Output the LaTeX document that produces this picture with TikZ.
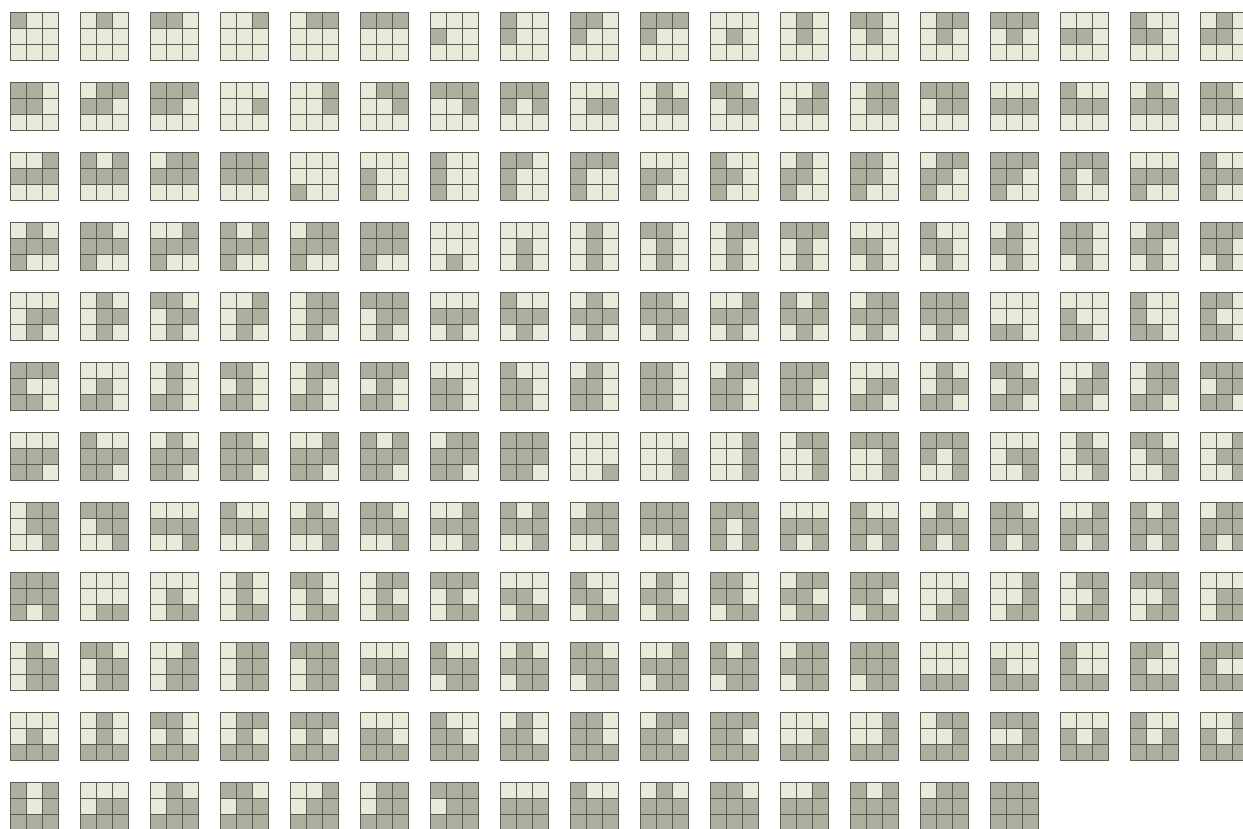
\documentclass[tikz,border=0pt]{standalone}
\definecolor{lightcell}{RGB}{234,234,217}
\definecolor{darkcell}{RGB}{175,175,160}
\definecolor{gridline}{RGB}{90,90,82}
\definecolor{framehalo}{RGB}{185,185,175}

\ExplSyntaxOn
\intarray_new:Nn \g_my_cell_intarray {9}
\intarray_new:Nn \g_my_mark_intarray {9}
\int_new:N \l_my_n_int
\int_new:N \l_my_total_int
\int_new:N \l_my_marked_int
\int_new:N \l_my_r_int
\int_new:N \l_my_c_int
\int_new:N \l_my_nb_int
\int_new:N \l_my_h_int
\bool_new:N \l_my_found_bool
\clist_new:N \g_my_valid_clist

\cs_new_protected:Npn \my_try_mark:n #1
  {
    \int_compare:nNnT { \intarray_item:Nn \g_my_mark_intarray {#1} } = {0}
      {
        \int_set:Nn \l_my_r_int { \int_div_truncate:nn {#1 - 1} {3} }
        \int_set:Nn \l_my_c_int { \int_mod:nn {#1 - 1} {3} }
        \int_zero:N \l_my_nb_int
        \int_compare:nNnT {\l_my_r_int} > {0}
          { \int_add:Nn \l_my_nb_int { \intarray_item:Nn \g_my_mark_intarray {#1 - 3} } }
        \int_compare:nNnT {\l_my_r_int} < {2}
          { \int_add:Nn \l_my_nb_int { \intarray_item:Nn \g_my_mark_intarray {#1 + 3} } }
        \int_compare:nNnT {\l_my_c_int} > {0}
          { \int_add:Nn \l_my_nb_int { \intarray_item:Nn \g_my_mark_intarray {#1 - 1} } }
        \int_compare:nNnT {\l_my_c_int} < {2}
          { \int_add:Nn \l_my_nb_int { \intarray_item:Nn \g_my_mark_intarray {#1 + 1} } }
        \int_compare:nNnT {\l_my_nb_int} > {0}
          { \intarray_gset:Nnn \g_my_mark_intarray {#1} {1} }
      }
  }

\cs_new_protected:Npn \my_test:n #1
  {
    \int_set:Nn \l_my_n_int {#1}
    \int_zero:N \l_my_total_int
    \int_step_inline:nn {9}
      {
        \intarray_gset:Nnn \g_my_cell_intarray {##1} { \int_mod:nn {\l_my_n_int} {2} }
        \intarray_gset:Nnn \g_my_mark_intarray {##1} {0}
        \int_add:Nn \l_my_total_int { \int_mod:nn {\l_my_n_int} {2} }
        \int_set:Nn \l_my_n_int { \int_div_truncate:nn {\l_my_n_int} {2} }
      }
    \bool_set_false:N \l_my_found_bool
    \int_step_inline:nn {9}
      {
        \bool_if:NF \l_my_found_bool
          {
            \int_compare:nNnT { \intarray_item:Nn \g_my_cell_intarray {##1} } = {1}
              {
                \intarray_gset:Nnn \g_my_mark_intarray {##1} {1}
                \bool_set_true:N \l_my_found_bool
              }
          }
      }
    \prg_replicate:nn {8}
      {
        \int_step_inline:nn {9}
          {
            \int_compare:nNnT { \intarray_item:Nn \g_my_cell_intarray {##1} } = {1}
              { \my_try_mark:n {##1} }
          }
      }
    \int_zero:N \l_my_marked_int
    \int_step_inline:nn {9}
      { \int_add:Nn \l_my_marked_int { \intarray_item:Nn \g_my_mark_intarray {##1} } }
    \int_set:Nn \l_my_h_int
      {
        \intarray_item:Nn \g_my_cell_intarray {2}
        + \intarray_item:Nn \g_my_cell_intarray {4}
        + \intarray_item:Nn \g_my_cell_intarray {6}
        + \intarray_item:Nn \g_my_cell_intarray {8}
        - \intarray_item:Nn \g_my_cell_intarray {5}
      }
    \int_compare:nNnT {\l_my_marked_int} = {\l_my_total_int}
      {
        \int_compare:nNnT {\l_my_h_int} < {4}
          { \clist_gput_right:Nn \g_my_valid_clist {#1} }
      }
  }

\int_step_inline:nnn {1} {511} { \my_test:n {#1} }
\cs_gset_eq:NN \mytilelist \g_my_valid_clist
\ExplSyntaxOff

\tikzset{
  tilehalo/.style={draw=framehalo, line width=1.8pt},
  tileframe/.style={draw=gridline, line width=0.7pt},
  tilegrid/.style={draw=gridline, line width=0.6pt}
}

\begin{document}
\begin{tikzpicture}[x=1pt,y=-1pt]
\useasboundingbox (0,0) rectangle (1243,829);
\fill[white] (0,0) rectangle (1243,829);
\clip (0,0) rectangle (1243,829);
\def\s{16}
\foreach \n [count=\i from 0] in \mytilelist {
  \pgfmathtruncatemacro\col{mod(\i,18)}
  \pgfmathtruncatemacro\row{\i/18}
  \pgfmathsetmacro\X{10.5+70*\col}
  \pgfmathsetmacro\Y{12.5+70*\row}
  \path[tilehalo] (\X,\Y) rectangle ++(3*\s,3*\s);
  \foreach \k in {0,...,8} {
    \pgfmathtruncatemacro\b{mod(int(\n/pow(2,\k)),2)}
    \pgfmathtruncatemacro\cr{\k/3}
    \pgfmathtruncatemacro\cc{\k-3*\cr}
    \ifnum\b=1 \def\fc{darkcell}\else\def\fc{lightcell}\fi
    \fill[\fc] (\X+\cc*\s,\Y+\cr*\s) rectangle ++(\s,\s);
  }
  \path[tilegrid] (\X+\s,\Y) -- ++(0,3*\s) (\X+2*\s,\Y) -- ++(0,3*\s)
                  (\X,\Y+\s) -- ++(3*\s,0) (\X,\Y+2*\s) -- ++(3*\s,0);
  \path[tileframe] (\X,\Y) rectangle ++(3*\s,3*\s);
}
\end{tikzpicture}
\end{document}
